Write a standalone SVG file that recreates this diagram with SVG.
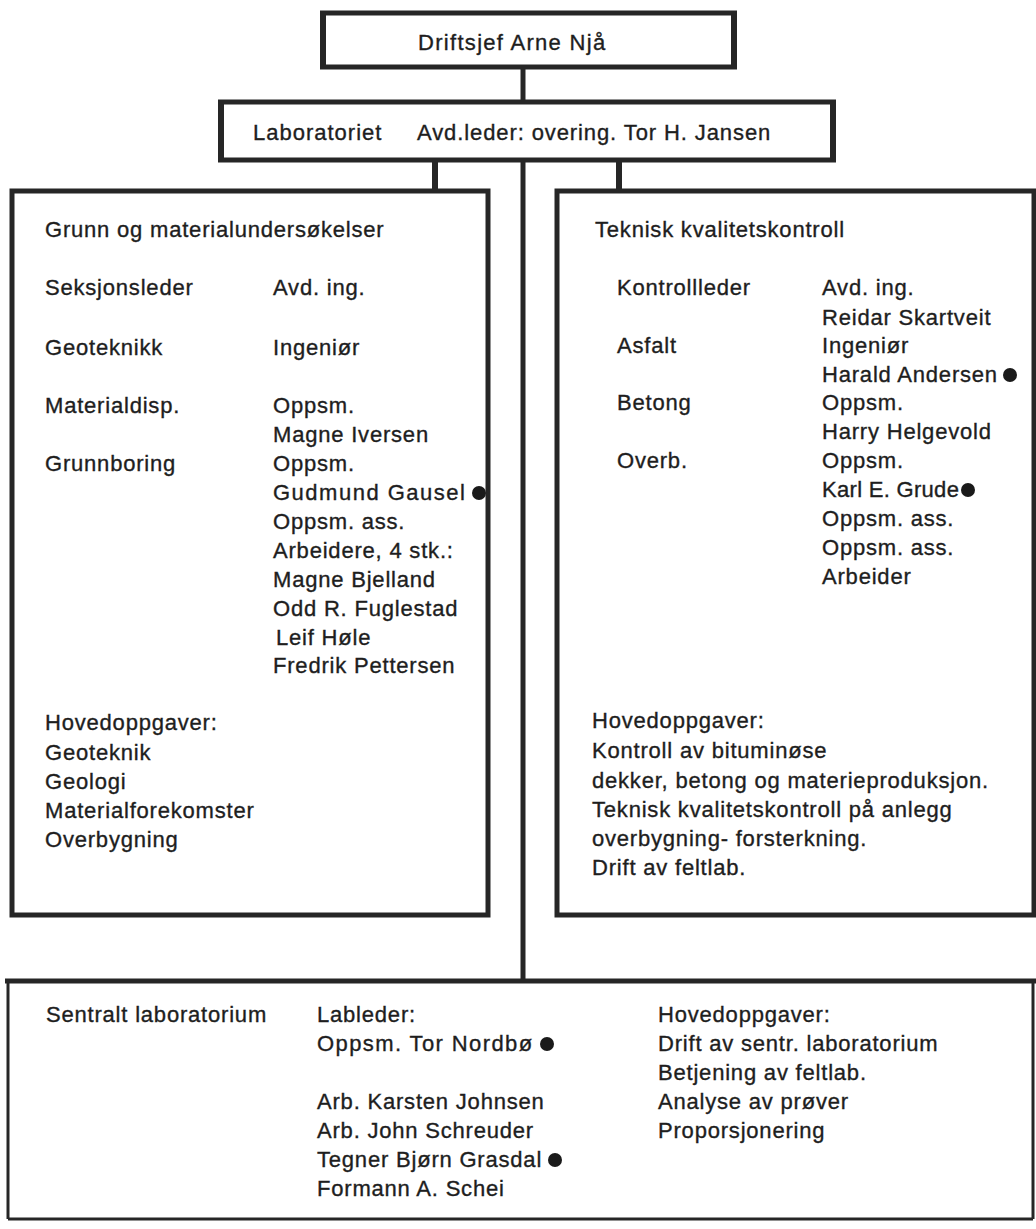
<svg xmlns="http://www.w3.org/2000/svg" width="1036" height="1229" viewBox="0 0 1036 1229">
<style>
.t{font-family:"Liberation Sans",Arial,sans-serif;font-size:22px;fill:#1e1e1e;stroke:#1e1e1e;stroke-width:0.35px;letter-spacing:0.8px}
.w{letter-spacing:1.3px}
.box{fill:none;stroke:#262626;stroke-width:5}
.ln{stroke:#262626;stroke-width:5;fill:none}
.thin{stroke:#262626;stroke-width:3;fill:none}
.br{fill:#262626}
.dot{fill:#1a1a1a}
</style>
<rect width="1036" height="1229" fill="#ffffff"/>

<g id="connectors">
  <line class="ln" x1="523" y1="67" x2="523" y2="102"/>
  <line class="ln" x1="523" y1="160" x2="523" y2="190"/>
  <line class="ln" x1="523" y1="190" x2="523" y2="980"/>
  <line class="ln" x1="435" y1="160" x2="435" y2="190" style="stroke-width:6"/>
  <line class="ln" x1="619" y1="160" x2="619" y2="190" style="stroke-width:6"/>
</g>

<g id="node-driftsjef">
  <line class="ln" x1="320" y1="13" x2="737" y2="13"/>
  <line class="ln" x1="320" y1="67" x2="737" y2="67"/>
  <rect class="br" x="320" y="12" width="6" height="57"/>
  <rect class="br" x="731" y="12" width="6" height="57"/>
  <text class="t w" x="418" y="50">Driftsjef Arne Njå</text>
</g>

<g id="node-laboratoriet">
  <line class="ln" x1="218" y1="102" x2="836" y2="102"/>
  <line class="ln" x1="218" y1="160" x2="836" y2="160"/>
  <rect class="br" x="218" y="101" width="6" height="61"/>
  <rect class="br" x="830" y="101" width="6" height="61"/>
  <text class="t" x="253" y="140" style="letter-spacing:1px">Laboratoriet</text>
  <text class="t" x="417" y="140" style="letter-spacing:0.9px">Avd.leder: overing. Tor H. Jansen</text>
</g>

<g id="node-grunn">
  <rect class="box" x="12" y="191" width="476" height="724"/>
  <text class="t" x="45" y="237">Grunn og materialundersøkelser</text>
  <text class="t" x="45" y="295">Seksjonsleder</text>
  <text class="t" x="273" y="295">Avd. ing.</text>
  <text class="t" x="45" y="355">Geoteknikk</text>
  <text class="t" x="273" y="355">Ingeniør</text>
  <text class="t" x="45" y="413">Materialdisp.</text>
  <text class="t" x="273" y="413">Oppsm.</text>
  <text class="t" x="273" y="442">Magne Iversen</text>
  <text class="t" x="45" y="471">Grunnboring</text>
  <text class="t" x="273" y="471">Oppsm.</text>
  <text class="t" x="273" y="500" style="letter-spacing:1.5px">Gudmund Gausel</text>
  <circle class="dot" cx="479" cy="493" r="7"/>
  <text class="t" x="273" y="529">Oppsm. ass.</text>
  <text class="t" x="273" y="558">Arbeidere, 4 stk.:</text>
  <text class="t" x="273" y="587">Magne Bjelland</text>
  <text class="t" x="273" y="616">Odd R. Fuglestad</text>
  <text class="t" x="276" y="645">Leif Høle</text>
  <text class="t" x="273" y="673">Fredrik Pettersen</text>
  <text class="t" x="45" y="730">Hovedoppgaver:</text>
  <text class="t" x="45" y="760">Geoteknik</text>
  <text class="t" x="45" y="789">Geologi</text>
  <text class="t" x="45" y="818">Materialforekomster</text>
  <text class="t" x="45" y="847">Overbygning</text>
</g>

<g id="node-teknisk">
  <rect class="box" x="557" y="191" width="477" height="724"/>
  <text class="t" x="595" y="237">Teknisk kvalitetskontroll</text>
  <text class="t" x="617" y="295">Kontrollleder</text>
  <text class="t" x="822" y="295">Avd. ing.</text>
  <text class="t" x="822" y="325">Reidar Skartveit</text>
  <text class="t" x="617" y="353">Asfalt</text>
  <text class="t" x="822" y="353">Ingeniør</text>
  <text class="t" x="822" y="382">Harald Andersen</text>
  <circle class="dot" cx="1010" cy="375" r="7"/>
  <text class="t" x="617" y="410">Betong</text>
  <text class="t" x="822" y="410">Oppsm.</text>
  <text class="t" x="822" y="439">Harry Helgevold</text>
  <text class="t" x="617" y="468">Overb.</text>
  <text class="t" x="822" y="468">Oppsm.</text>
  <text class="t" x="822" y="497" style="letter-spacing:0.3px">Karl E. Grude</text>
  <circle class="dot" cx="968" cy="490" r="7"/>
  <text class="t" x="822" y="526">Oppsm. ass.</text>
  <text class="t" x="822" y="555">Oppsm. ass.</text>
  <text class="t" x="822" y="584">Arbeider</text>
  <text class="t" x="592" y="728">Hovedoppgaver:</text>
  <text class="t" x="592" y="758">Kontroll av bituminøse</text>
  <text class="t" x="592" y="788">dekker, betong og materieproduksjon.</text>
  <text class="t" x="592" y="817">Teknisk kvalitetskontroll på anlegg</text>
  <text class="t" x="592" y="846">overbygning- forsterkning.</text>
  <text class="t" x="592" y="875">Drift av feltlab.</text>
</g>

<g id="node-sentralt">
  <line class="ln" x1="5" y1="981" x2="1036" y2="981"/>
  <line class="thin" x1="8" y1="981" x2="8" y2="1219"/>
  <line class="thin" x1="1033" y1="981" x2="1033" y2="1219"/>
  <line class="thin" x1="8" y1="1219" x2="1033" y2="1219"/>
  <text class="t" x="46" y="1022">Sentralt laboratorium</text>
  <text class="t" x="317" y="1022">Lableder:</text>
  <text class="t" x="317" y="1051" style="letter-spacing:1.4px">Oppsm. Tor Nordbø</text>
  <circle class="dot" cx="547" cy="1044" r="7"/>
  <text class="t" x="317" y="1109">Arb. Karsten Johnsen</text>
  <text class="t" x="317" y="1138">Arb. John Schreuder</text>
  <text class="t" x="317" y="1167">Tegner Bjørn Grasdal</text>
  <circle class="dot" cx="555" cy="1160" r="7"/>
  <text class="t" x="317" y="1196">Formann A. Schei</text>
  <text class="t" x="658" y="1022">Hovedoppgaver:</text>
  <text class="t" x="658" y="1051">Drift av sentr. laboratorium</text>
  <text class="t" x="658" y="1080">Betjening av feltlab.</text>
  <text class="t" x="658" y="1109">Analyse av prøver</text>
  <text class="t" x="658" y="1138">Proporsjonering</text>
</g>
</svg>
